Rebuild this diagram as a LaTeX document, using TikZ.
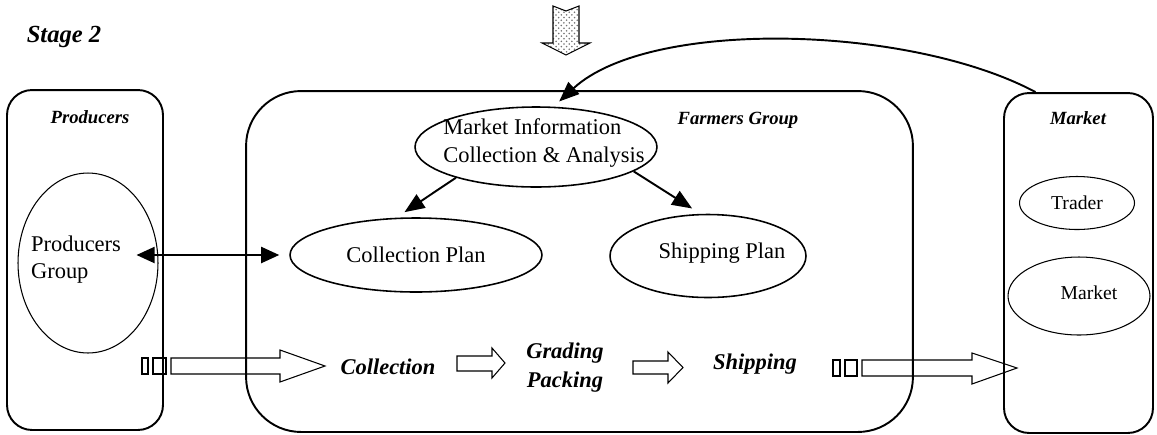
\documentclass[tikz,border=0pt]{standalone}
\usepackage{fontspec}
\setmainfont{Liberation Serif}
\usetikzlibrary{positioning}
\usetikzlibrary{calc}
\usetikzlibrary{arrows.meta}
\usetikzlibrary{shapes.geometric}
\usetikzlibrary{patterns}

\tikzset{
  panel/.style={draw, line width=1.1pt, rounded corners=0.5cm, inner sep=0pt},
  oval/.style={draw, ellipse, line width=0.9pt, inner sep=0pt, font=\fontsize{12.8}{15.4}\selectfont},
  smalloval/.style={oval, line width=0.6pt, font=\fontsize{11.2}{13}\selectfont},
  ovaltext/.style={font=\fontsize{12.8}{15.4}\selectfont, align=left, inner sep=0pt},
  heading/.style={font=\fontsize{10.6}{12}\selectfont\bfseries\itshape},
  flowlabel/.style={font=\fontsize{12.8}{16.5}\selectfont\bfseries\itshape, align=center},
  link/.style={line width=1.1pt, -{Triangle[length=0.4cm,width=0.32cm]}},
  blockarrow/.style={line width=0.6pt, line join=miter}
}

\begin{document}
\begin{tikzpicture}[x=0.02cm, y=-0.02cm]
    \useasboundingbox (0,0) rectangle (1157,434);

    \node[font=\fontsize{14}{16}\selectfont\bfseries\itshape] (stage) at (64,37) {Stage 2};

    \node[panel, minimum width=3.12cm, minimum height=6.8cm] (prodbox) at (85,260) {};
    \node[panel, rounded corners=1.1cm, minimum width=13.34cm, minimum height=6.82cm] (farmbox) at (579.5,261.5) {};
    \node[panel, minimum width=2.98cm, minimum height=6.8cm] (mktbox) at (1078.5,263) {};

    \node[heading] (prodhead) at (90,117) {Producers};
    \node[heading] (farmhead) at (738,120) {Farmers Group};
    \node[heading] (mkthead) at (1078,118) {Market};

    \node[oval, line width=0.6pt, minimum width=2.8cm, minimum height=3.6cm,
          label={[ovaltext, xshift=-0.24cm, yshift=0.06cm]center:{Producers\\Group}}] (prodgrp) at (88,263) {};
    \node[oval, minimum width=4.84cm, minimum height=1.6cm,
          label={[ovaltext, xshift=0.16cm, yshift=0.08cm]center:{Market Information\\Collection \& Analysis}}] (mktinfo) at (536,147) {};
    \node[oval, minimum width=5.04cm, minimum height=1.48cm] (colplan) at (416,255) {Collection Plan};
    \node[oval, minimum width=3.92cm, minimum height=1.66cm,
          label={[ovaltext, xshift=0.28cm, yshift=0.06cm]center:{Shipping Plan}}] (shipplan) at (708,256) {};
    \node[smalloval, minimum width=2.3cm, minimum height=1.06cm] (trader) at (1077,203) {Trader};
    \node[smalloval, minimum width=2.84cm, minimum height=1.56cm,
          label={[font=\fontsize{11.2}{13}\selectfont, xshift=0.2cm, yshift=0.06cm]center:{Market}}] (mktoval) at (1079,296) {};

    \node[flowlabel] (collect) at (388,367) {Collection};
    \node[flowlabel] (grading) at (565,368) {Grading\\Packing};
    \node[flowlabel] (shipping) at (755,364) {Shipping};

    \draw[blockarrow, pattern=crosshatch dots, pattern color=black!55]
        (553,6) -- (566,11) -- (579,6) -- (579,43) -- (590,43) -- (566,55) -- (542,43) -- (553,43) -- cycle;

    \draw[link, shorten >=0.2cm] (mktinfo.201) -- (colplan.118);
    \draw[link, shorten >=0.2cm] (mktinfo.346) -- (shipplan.100);
    \draw[link, shorten >=0.14cm] ([xshift=-0.86cm]mktbox.north) .. controls (910,25) and (650,18) .. ([xshift=0.36cm]mktinfo.north);
    \draw[link, {Triangle[length=0.36cm,width=0.32cm]}-{Triangle[length=0.36cm,width=0.32cm]}, shorten >=0.2cm]
        ($(prodgrp.east |- colplan.west)+(-22,0)$) -- (colplan.west);

    \draw[blockarrow] (142,358) rectangle (148,374);
    \draw[blockarrow] (153,358) rectangle (166,374);
    \draw[blockarrow] (171,358) -- (280,358) -- (280,350) -- (325,366) -- (280,382) -- (280,374) -- (171,374) -- cycle;
    \draw[blockarrow] (457,356) -- (492,356) -- (492,348) -- (505,363) -- (492,378) -- (492,371) -- (457,371) -- cycle;
    \draw[blockarrow] (633,361) -- (668,361) -- (668,352) -- (683,367.5) -- (668,383) -- (668,374) -- (633,374) -- cycle;
    \draw[blockarrow] (833,360) rectangle (840,376);
    \draw[blockarrow] (845,360) rectangle (857,376);
    \draw[blockarrow] (862,360) -- (972,360) -- (972,353) -- (1017,368) -- (972,384) -- (972,376) -- (862,376) -- cycle;
\end{tikzpicture}
\end{document}
